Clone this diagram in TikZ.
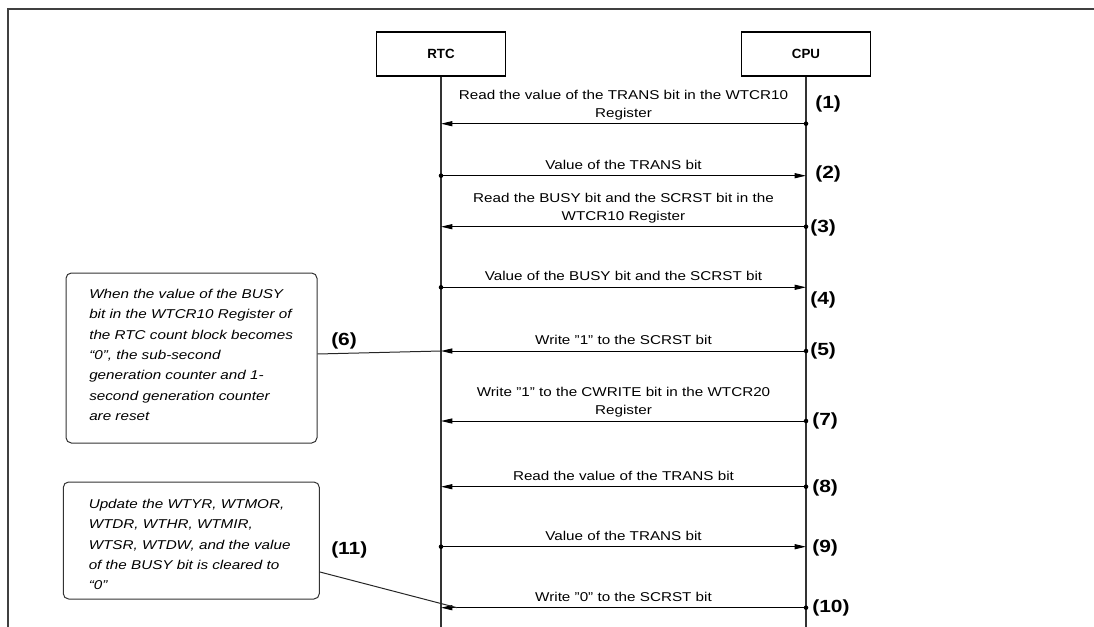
\documentclass[tikz,border=0pt]{standalone}
\usepackage{fontspec}
\setmainfont{Liberation Sans}[FakeStretch=1.19]
\newfontfamily\headfont{Liberation Sans}
\usetikzlibrary{arrows.meta}

\begin{document}
\begin{tikzpicture}[
  x=0.75pt, y=-0.75pt,
  frame/.style={draw=black!75, line width=1pt},
  lifebox/.style={draw=black, line width=1.1pt, minimum width=96.5pt, minimum height=33pt,
    inner sep=0pt, font=\headfont\bfseries\fontsize{10}{11}\selectfont},
  lifeline/.style={draw=black!80, line width=0.8pt},
  msg/.style={draw=black, line width=0.75pt, -{Triangle[length=8.5pt,width=3.8pt]}},
  msgtext/.style={anchor=south, inner sep=0pt, align=center,
    font=\fontsize{9.6}{13.5}\selectfont},
  steplabel/.style={anchor=west, inner sep=0pt, font=\bfseries\fontsize{13.2}{15}\selectfont},
  notebox/.style={draw=black!80, line width=0.75pt, rounded corners=4pt, inner sep=0pt},
  notetext/.style={anchor=north west, inner sep=0pt, align=left,
    font=\itshape\fontsize{9.6}{15.3}\selectfont},
  callout/.style={draw=black!85, line width=0.75pt},
  srcdot/.style={fill=black}
]
\useasboundingbox (0,0) rectangle (1094,627);

% outer frame (left and top edges)
\draw[frame] (8,640) -- (8,9) -- (1100,9);

% participants
\node[lifebox] (rtc) at (441,54) {RTC};
\node[lifebox] (cpu) at (806,54) {CPU};
\coordinate (rtcend) at (441,640);
\coordinate (cpuend) at (806,640);
\draw[lifeline] (rtc.south) -- (rtcend);
\draw[lifeline] (cpu.south) -- (cpuend);

% message end points on the lifelines
\foreach \i/\y in {1/123.7, 2/175.7, 3/226.7, 4/287.3, 5/351, 7/421, 8/486.7, 9/546.7, 10/607.7} {
  \coordinate (r\i) at (441,\y);
  \coordinate (c\i) at (806,\y);
}

% messages
\draw[msg] (c1) -- (r1);  \fill[srcdot] (c1) circle[radius=1.7pt];
\draw[msg] (r2) -- (c2);  \fill[srcdot] (r2) circle[radius=1.7pt];
\draw[msg] (c3) -- (r3);  \fill[srcdot] (c3) circle[radius=1.7pt];
\draw[msg] (r4) -- (c4);  \fill[srcdot] (r4) circle[radius=1.7pt];
\draw[msg] (c5) -- (r5);  \fill[srcdot] (c5) circle[radius=1.7pt];
\draw[msg] (c7) -- (r7);  \fill[srcdot] (c7) circle[radius=1.7pt];
\draw[msg] (c8) -- (r8);  \fill[srcdot] (c8) circle[radius=1.7pt];
\draw[msg] (r9) -- (c9);  \fill[srcdot] (r9) circle[radius=1.7pt];
\draw[msg] (c10) -- (r10); \fill[srcdot] (c10) circle[radius=1.7pt];

% message texts
\node[msgtext] (t1) at (623.5,120.5) {Read the value of the TRANS bit in the WTCR10\\Register};
\node[msgtext] (t2) at (623.5,169.7) {Value of the TRANS bit};
\node[msgtext] (t3) at (623.5,223.5) {Read the BUSY bit and the SCRST bit in the\\WTCR10 Register};
\node[msgtext] (t4) at (623.5,281.3) {Value of the BUSY bit and the SCRST bit};
\node[msgtext] (t5) at (623.5,345) {Write "1" to the SCRST bit};
\node[msgtext] (t7) at (623.5,417.8) {Write "1" to the CWRITE bit in the WTCR20\\Register};
\node[msgtext] (t8) at (623.5,480.7) {Read the value of the TRANS bit};
\node[msgtext] (t9) at (623.5,540.7) {Value of the TRANS bit};
\node[msgtext] (t10) at (623.5,601.7) {Write "0" to the SCRST bit};

% step numbers
\node[steplabel] (s1) at (815,104.2) {(1)};
\node[steplabel] (s2) at (815,174.2) {(2)};
\node[steplabel] (s3) at (810,227.5) {(3)};
\node[steplabel] (s4) at (810,300) {(4)};
\node[steplabel] (s5) at (810,350.8) {(5)};
\node[steplabel] (s7) at (812,420.8) {(7)};
\node[steplabel] (s8) at (812,487.5) {(8)};
\node[steplabel] (s9) at (812,548.3) {(9)};
\node[steplabel] (s10) at (812,608.3) {(10)};
\node[steplabel] (s6) at (331,341) {(6)};
\node[steplabel] (s11) at (331,550) {(11)};

% notes on the RTC side
\node[notebox, minimum width=188.25pt, minimum height=127.5pt] (n6) at (191.5,358) {};
\node[notetext] (n6t) at (89,288.7) {When the value of the BUSY\\bit in the WTCR10 Register of\\the RTC count block becomes\\“0”, the sub-second\\generation counter and 1-\\second generation counter\\are reset};
\node[notebox, minimum width=192pt, minimum height=87.75pt] (n11) at (191.3,540.5) {};
\node[notetext] (n11t) at (88.5,498.7) {Update the WTYR, WTMOR,\\WTDR, WTHR, WTMIR,\\WTSR, WTDW, and the value\\of the BUSY bit is cleared to\\“0”};

\coordinate (p11) at (457,607.7);
\draw[callout] ([yshift=3pt]n6.east) -- (r5);
\draw[callout] ([yshift=-23.6pt]n11.east) -- (p11);
\end{tikzpicture}
\end{document}
